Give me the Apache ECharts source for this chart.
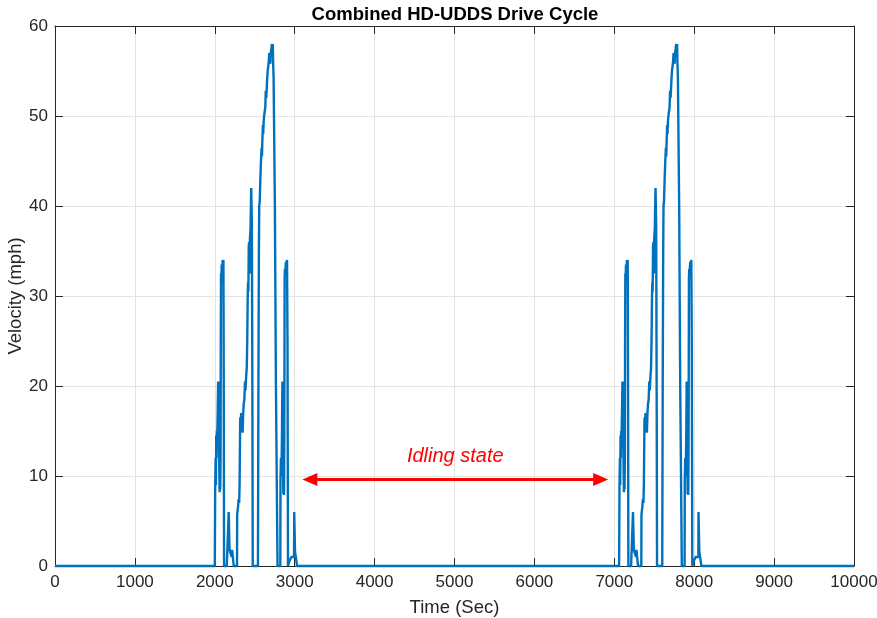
<!DOCTYPE html>
<html>
<head>
<meta charset="utf-8">
<script src="https://cdn.jsdelivr.net/npm/echarts@6/dist/echarts.min.js"></script>
<style>
html,body{margin:0;padding:0;background:#fff;}
#chart{width:877px;height:618px;}
</style>
</head>
<body>
<div id="chart"></div>
<script>
// One HD-UDDS cycle: time since cycle offset (s) and velocity (mph)
const cycleTime = [0,4,5,10,14,18,22,26,30,36,42,46,50,55,60,64,68,72,75,78,82,86,92,98,104,108,112,116,
  150,152,170,174,180,184,190,208,212,217,237,
  278,280,290,298,305,310,318,324,330,336,342,348,355,362,370,378,384,392,400,406,412,416,420,425,430,435,440,447,452,456,460,464,470,475,
  540,546,552,556,562,570,578,586,590,596,602,606,612,620,626,632,638,644,650,656,662,668,675,682,688,695,700,708,715,720,726,730,736,742,752,765,785,
  820,822,828,834,840,846,850,854,858,862,866,870,874,878,882,890,898,904,910,916,
  930,932,950,958,992,994,1000,1004,1020,1030];
const cycleSpeed = [0,0,8.8,12,9,14.5,12,15,14,17,20.5,18,20.5,12,8.2,10,8.5,12,25,32.5,31.5,33.5,32.8,34,33.5,34,20,0,
  0,0.5,0.5,6,6,2,1.6,1.8,1,1.8,0,
  0,5.7,6.5,7.4,7,9,16.5,15,17,15.5,16.5,14.8,17,18,18.5,20.5,19.5,21,22,25,30,31.5,30.5,35.5,36,32.5,36.5,37.5,40,42,42,38,20,0,
  0,20,35,40,40.5,43,45,46.5,45.5,47.5,49,48,49.5,50.2,50,51,52.8,52,53,54.2,55,54.8,56,57,57.2,55.8,57,57.5,58,57.2,58,56,54.2,54,40,20,0,
  0,9.5,12,10,14,20.5,18,12,8,10,7.9,15,32,33,32.5,33.8,33.5,34,25,0,
  0,0.5,0.6,1,1,6,6,1.6,1.6,0];
// Start times of the two cycles in the combined run (s)
const cycleStarts = [2000, 7060];
const xTicks = [0,1000,2000,3000,4000,5000,6000,7000,8000,9000,10000];
const yTicks = [0,10,20,30,40,50,60];
// Annotation (arrow between the two cycles)
const arrowFrom = [3190, 9.6];
const arrowTo = [6830, 9.6];
const annotationText = 'Idling state';

const data = [[0,0]];
cycleStarts.forEach(s => {
  for (let i = 0; i < cycleTime.length; i++) data.push([s + cycleTime[i], cycleSpeed[i]]);
});
data.push([10000,0]);

const axisColor = '#262626';
const gridColor = '#e3e3e3';
const font = 'Liberation Sans, Arial, Helvetica, sans-serif';
const plain = v => String(v);

const chart = echarts.init(document.getElementById('chart'), null, {renderer:'canvas'});
chart.setOption({
  animation:false,
  backgroundColor:'#ffffff',
  title:{
    text:'Combined HD-UDDS Drive Cycle',
    left:450, textAlign:'center', top:0,
    textStyle:{fontFamily:font, fontSize:18.5, fontWeight:'bold', color:'#000'}
  },
  grid:{left:55, right:23, top:26, bottom:52, containLabel:false, outerBoundsMode:'none'},
  xAxis:[{
    type:'value', min:xTicks[0], max:xTicks[xTicks.length-1], interval:1000, position:'bottom',
    name:'Time (Sec)', nameLocation:'middle', nameGap:32, nameMoveOverlap:false,
    nameTextStyle:{fontFamily:font, fontSize:18.5, color:axisColor},
    axisLine:{show:true, onZero:false, lineStyle:{color:axisColor, width:1}},
    axisTick:{show:true, inside:true, length:8, lineStyle:{color:axisColor}},
    axisLabel:{fontFamily:font, fontSize:17, color:axisColor, margin:8, formatter:plain},
    splitLine:{show:true, lineStyle:{color:gridColor, width:1}}
  },{
    type:'value', min:xTicks[0], max:xTicks[xTicks.length-1], interval:1000, position:'top',
    axisLine:{show:true, onZero:false, lineStyle:{color:axisColor, width:1}},
    axisTick:{show:true, inside:true, length:8, lineStyle:{color:axisColor}},
    axisLabel:{show:false}, splitLine:{show:false}
  }],
  yAxis:[{
    type:'value', min:yTicks[0], max:yTicks[yTicks.length-1], interval:10, position:'left',
    name:'Velocity (mph)', nameLocation:'middle', nameGap:30, nameMoveOverlap:false,
    nameTextStyle:{fontFamily:font, fontSize:18.5, color:axisColor},
    axisLine:{show:true, onZero:false, lineStyle:{color:axisColor, width:1}},
    axisTick:{show:true, inside:true, length:8, lineStyle:{color:axisColor}},
    axisLabel:{fontFamily:font, fontSize:17, color:axisColor, margin:7, formatter:plain},
    splitLine:{show:true, lineStyle:{color:gridColor, width:1}}
  },{
    type:'value', min:yTicks[0], max:yTicks[yTicks.length-1], interval:10, position:'right',
    axisLine:{show:true, onZero:false, lineStyle:{color:axisColor, width:1}},
    axisTick:{show:true, inside:true, length:8, lineStyle:{color:axisColor}},
    axisLabel:{show:false}, splitLine:{show:false}
  }],
  series:[{
    type:'line', data:data, xAxisIndex:0, yAxisIndex:0,
    showSymbol:false, symbol:'none', clip:false,
    lineStyle:{color:'#0072BD', width:2.4},
    markLine:{
      silent:true, animation:false,
      symbol:['triangle','triangle'], symbolSize:[13,15],
      lineStyle:{color:'#ff0000', width:3, type:'solid'},
      label:{show:true, position:'insideMiddleTop', formatter:annotationText, distance:13,
        fontFamily:font, fontSize:20, fontStyle:'italic', color:'#ff0000'},
      data:[[{coord:arrowFrom}, {coord:arrowTo}]]
    }
  }]
});
</script>
</body>
</html>
